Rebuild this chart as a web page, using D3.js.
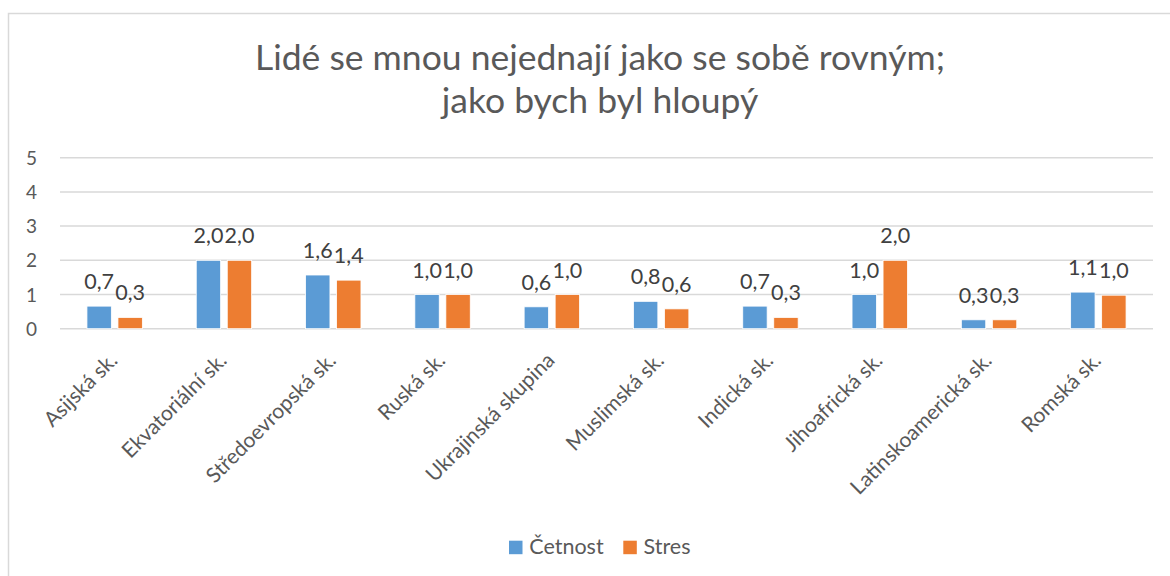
<!DOCTYPE html>
<html><head><meta charset="utf-8">
<script src="https://cdn.jsdelivr.net/npm/d3@7"></script>
<style>html,body{margin:0;padding:0;background:#fff;overflow:hidden}</style>
</head><body>
<svg id="chart" width="1170" height="576"></svg>
<script>
const titleLines = ["Lidé se mnou nejednají jako se sobě rovným;", "jako bych byl hloupý"];
const categories = ["Asijská sk.", "Ekvatoriální sk.", "Středoevropská sk.", "Ruská sk.", "Ukrajinská skupina", "Muslimská sk.", "Indická sk.", "Jihoafrická sk.", "Latinskoamerická sk.", "Romská sk."];
const seriesNames = ["Četnost", "Stres"];
const cetnost = [0.66, 2.0, 1.57, 1.0, 0.64, 0.80, 0.66, 1.0, 0.26, 1.07];
const stres   = [0.33, 2.0, 1.42, 1.0, 1.0, 0.58, 0.33, 2.0, 0.26, 0.98];
const yTicks = [0, 1, 2, 3, 4, 5];
const colors = ["#5B9BD5", "#ED7D31"];

const font = "Lato, 'Open Sans', sans-serif";
const svg = d3.select("#chart");
const M = {left: 60, right: 1153, top: 157.7, bottom: 328.7};

// outer border
svg.append("rect").attr("x", 8.5).attr("y", 13.5).attr("width", 1200).attr("height", 600)
  .attr("fill", "#fff").attr("stroke", "#d9d9d9").attr("stroke-width", 1.5);

// title
svg.append("g").selectAll("text").data(titleLines).join("text")
  .attr("x", 600).attr("y", (d, i) => 70 + i * 43)
  .attr("text-anchor", "middle").attr("font-family", font).attr("font-size", 35.5)
  .attr("fill", "#595959").text(d => d);

const y = d3.scaleLinear().domain([0, 5]).range([M.bottom, M.top]);
const x0 = d3.scaleBand().domain(categories).range([M.left, M.right]).paddingInner(0.493).paddingOuter(0.2465);
const x1 = d3.scaleBand().domain(seriesNames).range([0, x0.bandwidth()]).paddingInner(0.213);

// gridlines
svg.append("g").selectAll("line").data(yTicks).join("line")
  .attr("x1", M.left).attr("x2", M.right).attr("y1", d => y(d)).attr("y2", d => y(d))
  .attr("stroke", "#d9d9d9").attr("stroke-width", 1.5);

// y axis labels
const yAxis = d3.axisLeft(y).tickValues(yTicks).tickSize(0).tickPadding(23).tickFormat(d3.format("d"));
const ya = svg.append("g").attr("transform", `translate(${M.left},0)`).call(yAxis);
ya.select(".domain").remove();
ya.selectAll("text").attr("font-family", font).attr("font-size", 19).attr("fill", "#595959").attr("dy", "0.35em");

// bars
const data = categories.map((c, i) => ({cat: c, vals: [cetnost[i], stres[i]]}));
const fmt = v => d3.format(".1f")(v).replace(".", ",");
const groups = svg.append("g").selectAll("g").data(data).join("g")
  .attr("transform", d => `translate(${x0(d.cat)},0)`);
groups.selectAll("rect").data(d => d.vals.map((v, k) => ({v, s: seriesNames[k], k}))).join("rect")
  .attr("x", d => x1(d.s)).attr("width", x1.bandwidth())
  .attr("y", d => y(d.v)).attr("height", d => y(0) - y(d.v))
  .attr("fill", d => colors[d.k]).attr("stroke", "#fff").attr("stroke-width", 0.8);
groups.selectAll("text").data(d => d.vals.map((v, k) => ({v, s: seriesNames[k], k}))).join("text")
  .attr("x", d => x1(d.s) + x1.bandwidth() / 2).attr("y", d => y(d.v) - 17)
  .attr("text-anchor", "middle").attr("font-family", font).attr("font-size", 21.5)
  .attr("fill", "#404040").text(d => fmt(d.v));

// x axis labels (rotated)
const xAxis = d3.axisBottom(x0).tickSize(0).tickPadding(0);
const xa = svg.append("g").attr("transform", `translate(0,${M.bottom})`).call(xAxis);
xa.select(".domain").remove();
xa.selectAll(".tick text")
  .attr("font-family", font).attr("font-size", 21).attr("fill", "#595959")
  .attr("text-anchor", "end").attr("dy", 0).attr("y", 0)
  .attr("transform", "translate(4,33) rotate(-45)");

// legend
const legendX = [509, 623.3];
const lg = svg.append("g").selectAll("g").data(seriesNames).join("g")
  .attr("transform", (d, i) => `translate(${legendX[i]},540.7)`);
lg.append("rect").attr("width", 13.5).attr("height", 13.5).attr("fill", (d, i) => colors[i]);
lg.append("text").attr("x", 20.3).attr("y", 13.5).attr("font-family", font).attr("font-size", 21.5)
  .attr("fill", "#595959").text(d => d);
</script>
</body></html>
